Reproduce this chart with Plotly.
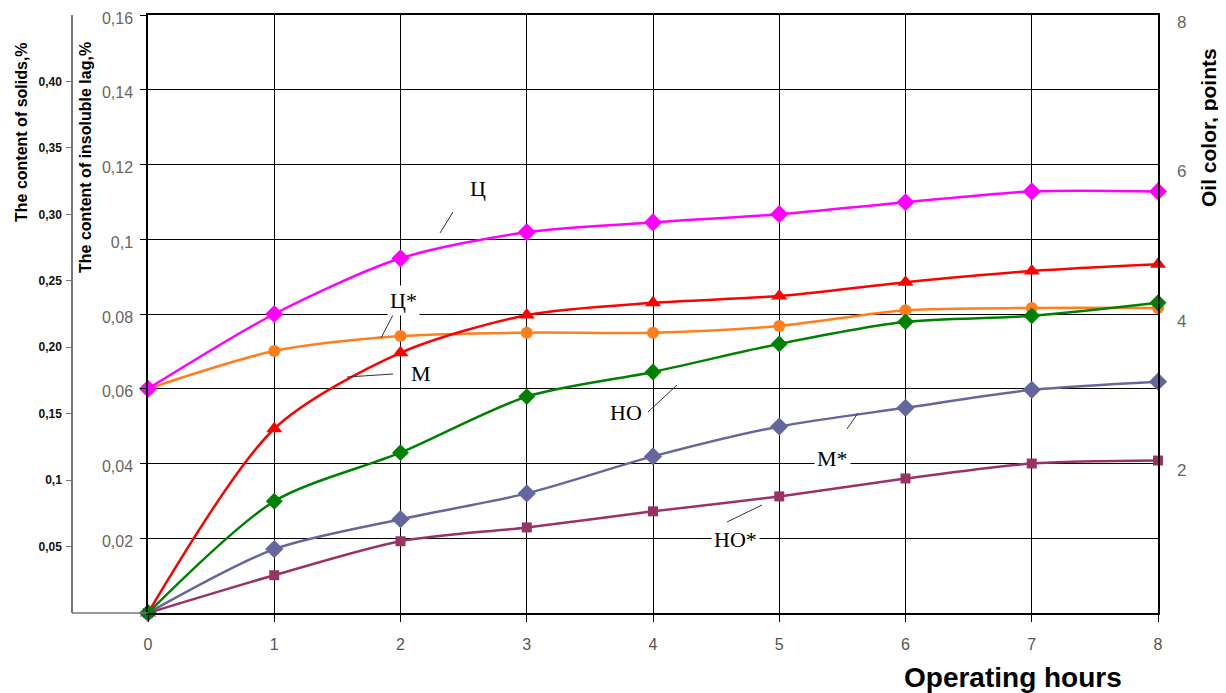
import plotly.graph_objects as go

hours = [0, 1, 2, 3, 4, 5, 6, 7, 8]
ts_vals = [0.060, 0.080, 0.0949, 0.1019, 0.1045, 0.1067, 0.1099, 0.1128, 0.1128]      # Ц
ts_star_vals = [0.060, 0.0701, 0.0741, 0.0750, 0.0750, 0.0768, 0.0810, 0.0816, 0.0816]  # Ц*
m_vals = [0.0, 0.0493, 0.0696, 0.0797, 0.0830, 0.0848, 0.0885, 0.0915, 0.0933]      # М
no_vals = [0.0, 0.0299, 0.0429, 0.0579, 0.0645, 0.0720, 0.0779, 0.0795, 0.0830]     # НО
m_star_vals = [0.0, 0.0171, 0.0251, 0.0320, 0.0419, 0.0499, 0.0549, 0.0597, 0.0619]  # М*
no_star_vals = [0.0, 0.0101, 0.0192, 0.0229, 0.0272, 0.0312, 0.0360, 0.0400, 0.0408]  # НО*

insol_ticks = [0.02, 0.04, 0.06, 0.08, 0.10, 0.12, 0.14, 0.16]
insol_labels = ["0,02", "0,04", "0,06", "0,08", "0,1", "0,12", "0,14", "0,16"]
solids_ticks = [0.05, 0.10, 0.15, 0.20, 0.25, 0.30, 0.35, 0.40]
solids_labels = ["0,05", "0,1", "0,15", "0,20", "0,25", "0,30", "0,35", "0,40"]
color_ticks = [2, 4, 6, 8]
color_labels = ["2", "4", "6", "8"]

OFF = 8  # default page body margin
W, H = 1226 - OFF, 693 - OFF
# desired plot area in page pixels: x 148..1158, y 15..613
ML, MR, MT, MB = 10 - OFF, 1226 - 1158, 15 - OFF, 693 - 613
PW, PH = W - ML - MR, H - MT - MB


def px(x):  # page pixel -> paper fraction
    return (x - OFF - ML) / PW


def py(y):
    return (613 - y) / PH


fig = go.Figure()

series = [
    ("Ц*", ts_star_vals, "#FF7F1E", "circle", 12),
    ("Ц", ts_vals, "#FF00FF", "diamond", 14),
    ("М", m_vals, "#FF0000", "triangle-up", 14),
    ("М*", m_star_vals, "#66669E", "diamond", 14),
    ("НО*", no_star_vals, "#993366", "square", 10),
    ("НО", no_vals, "#008000", "diamond", 13),
]
for name, vals, col, sym, sz in series:
    fig.add_trace(go.Scatter(
        x=hours, y=vals, name=name, mode="lines+markers",
        line=dict(color=col, width=2.5, shape="spline", smoothing=0.8),
        marker=dict(color=col, symbol=sym, size=sz),
        cliponaxis=False, showlegend=False,
    ))

fig.add_trace(go.Scatter(x=[None], y=[None], yaxis="y2", showlegend=False))
fig.add_trace(go.Scatter(x=[None], y=[None], yaxis="y3", showlegend=False))

fig.update_layout(
    width=W, height=H,
    margin=dict(l=ML, r=MR, t=MT, b=MB, autoexpand=False),
    paper_bgcolor="white", plot_bgcolor="white",
    xaxis=dict(
        domain=[px(148), 1.0], range=[0, 8], tickvals=hours,
        ticktext=[str(h) for h in hours], automargin=False,
        ticklabeloverflow="allow",
        showgrid=True, gridcolor="#000000", gridwidth=1.3,
        showline=True, linecolor="#000000", linewidth=1.5, mirror=True,
        ticks="outside", ticklen=7, tickcolor="#000000",
        tickfont=dict(family="Liberation Sans, Arial", size=16, color="#555555"),
        ticklabelstandoff=9, zeroline=False,
    ),
    yaxis=dict(
        range=[0, 0.16], tickvals=insol_ticks, ticktext=insol_labels,
        automargin=False, ticklabeloverflow="allow", ticklabelshift=3,
        showgrid=True, gridcolor="#000000", gridwidth=1.3,
        showline=True, linecolor="#000000", linewidth=1.5, mirror=True,
        ticks="outside", ticklen=6, tickcolor="#000000",
        tickfont=dict(family="Liberation Sans, Arial", size=16, color="#666666"),
        ticklabelstandoff=4, zeroline=False,
    ),
    yaxis2=dict(
        overlaying="y", side="right", range=[0, 8], automargin=False,
        ticklabeloverflow="allow", ticklabelshift=7,
        tickvals=color_ticks, ticktext=color_labels,
        showgrid=False, zeroline=False, showline=False, ticks="",
        tickfont=dict(family="Liberation Sans, Arial", size=17, color="#666666"),
        ticklabelstandoff=18,
    ),
    yaxis3=dict(
        overlaying="y", anchor="free", position=px(72), side="left",
        automargin=False, ticklabeloverflow="allow",
        range=[0, 0.45], tickvals=solids_ticks, ticktext=solids_labels,
        showgrid=False, zeroline=False, showline=True, linecolor="#777777",
        linewidth=1.5, ticks="outside", ticklen=5, tickcolor="#777777",
        tickfont=dict(family="Liberation Sans, Arial", size=12, color="#111111",
                      weight="bold"),
        ticklabelstandoff=2,
    ),
)

fig.add_shape(type="line", xref="paper", yref="paper",
              x0=px(72), x1=px(148), y0=py(613), y1=py(613),
              line=dict(color="#777777", width=1.5))


def ann(text, x, y, size, family, angle=0, bg=None, pad=2):
    fig.add_annotation(text=text, xref="paper", yref="paper", x=px(x), y=py(y),
                       xanchor="center", yanchor="middle", textangle=angle,
                       showarrow=False, borderpad=pad,
                       bgcolor=bg if bg else "rgba(0,0,0,0)",
                       font=dict(family=family, size=size, color="#000000"))


SANS = "Liberation Sans, Arial"
SERIF = "Liberation Serif, Times New Roman"
ann("<b>The content of solids,%</b>", 22, 132, 16, SANS, -90, pad=0)
ann("<b>The content of insoluble lag,%</b>", 86, 158, 16, SANS, -90, pad=0)
ann("<b>Oil color, points</b>", 1209, 128, 21, SANS, -90, pad=0)
ann("<b>Operating hours</b>", 1013, 677, 28, SANS, pad=0)

labels = [
    ("Ц", 478, 188, (453, 212, 440, 233), None),
    ("Ц*", 403, 300, (393, 315, 381, 338), "white"),
    ("М", 421, 373, (393, 374, 347, 377), None),
    ("НО", 626, 412, (648, 412, 677, 385), None),
    ("М*", 832, 458, (847, 429, 858, 413), "white"),
    ("НО*", 735, 539, (727, 522, 762, 505), "white"),
]
for txt, lx, ly, (ax0, ay0, ax1, ay1), bg in labels:
    fig.add_shape(type="line", xref="paper", yref="paper",
                  x0=px(ax0), y0=py(ay0), x1=px(ax1), y1=py(ay1),
                  line=dict(color="#333333", width=1))
    ann(txt, lx, ly, 22, SERIF, 0, bg)

fig.write_html("out.html")
